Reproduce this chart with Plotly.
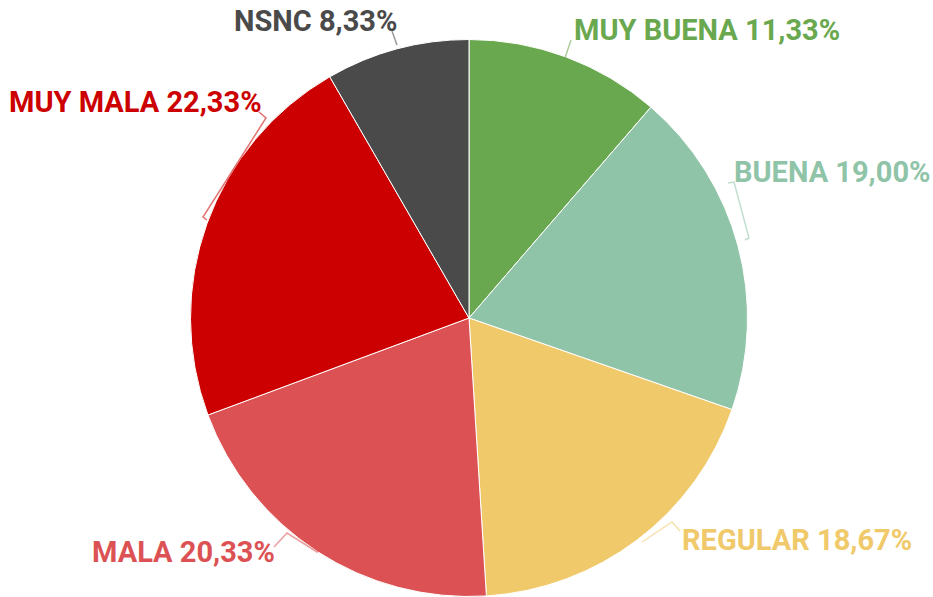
import plotly.graph_objects as go

labels = ["MUY BUENA", "BUENA", "REGULAR", "MALA", "MUY MALA", "NSNC"]
values = [11.33, 19.00, 18.67, 20.33, 22.33, 8.33]
colors = ["#6aa84f", "#8fc4a8", "#f0c96a", "#dc5254", "#cc0000", "#4a4a4a"]

W, H = 933, 597

# label placement (text left edge / vertical middle, in pixels) - layout only
label_pos = [(572, 30), (732, 172), (680, 540), (90, 552), (7, 102), (232, 21)]
# leader line paths (pixels) - decoration only
leaders = [
    [(571, 40), (565, 58)],
    [(728, 183), (734, 182), (749, 238), (745, 240)],
    [(642, 542), (672, 522), (680, 531)],
    [(274, 547), (287, 533), (317, 552), (320, 550)],
    [(259, 112), (266, 118), (203, 217), (207, 220)],
    [(392, 31), (397, 45)],
]

fig = go.Figure(go.Pie(
    labels=labels,
    values=values,
    sort=False,
    direction="clockwise",
    rotation=0,
    marker=dict(colors=colors, line=dict(color="white", width=1)),
    textinfo="none",
    domain=dict(x=[(469 - 278.5) / W, (469 + 278.5) / W],
                y=[0.5 / H, 557.5 / H]),
    showlegend=False,
    hoverinfo="label+percent",
))

annotations = []
for lab, v, c, (px, py) in zip(labels, values, colors, label_pos):
    txt = f"{lab} {v:.2f}%".replace(".", ",")
    annotations.append(dict(
        text=txt, x=px / W, y=1 - py / H, xref="paper", yref="paper",
        xanchor="left", yanchor="middle", showarrow=False,
        font=dict(family="Roboto", size=29, color=c, weight="bold"),
    ))

shapes = []
for pts, c in zip(leaders, colors):
    path = "M " + " L ".join(f"{x / W},{1 - y / H}" for x, y in pts)
    shapes.append(dict(type="path", path=path, xref="paper", yref="paper",
                       line=dict(color=c, width=1.5), opacity=0.55))

fig.update_layout(
    width=W, height=H,
    margin=dict(l=0, r=0, t=0, b=0),
    paper_bgcolor="white",
    plot_bgcolor="white",
    separators=", ",
    font=dict(family="Roboto"),
    annotations=annotations,
    shapes=shapes,
)

fig.write_html(
    "out.html",
    config={"displayModeBar": False},
    post_script="document.body.style.margin='0';document.body.style.overflow='hidden';",
)
